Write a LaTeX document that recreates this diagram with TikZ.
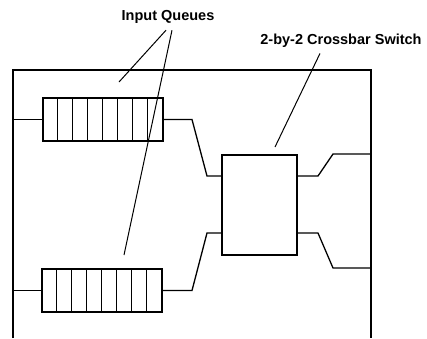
\documentclass[tikz,border=0pt]{standalone}
\usepackage{fontspec}
\setmainfont{Liberation Sans}
\usetikzlibrary{positioning}
\begin{document}
\begin{tikzpicture}[x=1pt,y=-1pt,line width=1.3pt,
	queuebox/.style={draw,rectangle,minimum width=120pt,minimum height=43pt,inner sep=0pt},
	switchbox/.style={draw,rectangle,minimum width=75pt,minimum height=100pt,inner sep=0pt},
	lbl/.style={font=\bfseries\fontsize{14.5}{16}\selectfont,inner sep=0pt},
	pointer/.style={line width=1pt}]
				\useasboundingbox (0,0) rectangle (427,338);
				
				%Frame
				\draw (13,338) -- (13,70) -- (371,70) -- (371,338);
				
				%Queues
				\node[queuebox] (q1) at (103,119.5) {};
				\node[queuebox] (q2) at (102,290.5) {};
				\foreach \q in {q1,q2}
					\foreach \i in {1,...,7}
						\draw[line width=1pt] ([xshift=\i*15pt]\q.north west) -- ([xshift=\i*15pt]\q.south west);
				
				%Switch
				\node[switchbox] (sw) at (259.5,205) {};
				
				%Inputs
				\coordinate (in1) at (13,119.5);
				\coordinate (in2) at (13,290.5);
				\draw (in1) -- (q1.west);
				\draw (in2) -- (q2.west);
				\draw (q1.east) -- (192,119.5) -- (207,176) -- ([yshift=29pt]sw.west);
				\draw (q2.east) -- (192,290.5) -- (207,233) -- ([yshift=-28pt]sw.west);
				
				%Outputs
				\coordinate (out1) at (371,154);
				\coordinate (out2) at (371,268);
				\draw ([yshift=29pt]sw.east) -- (318,176) -- (333,154) -- (out1);
				\draw ([yshift=-28pt]sw.east) -- (318,233) -- (333,268) -- (out2);
				
				%Labels
				\node[lbl] (iq) at (168,17) {Input Queues};
				\node[lbl] (cs) at (341,41) {2-by-2 Crossbar Switch};
				\coordinate (p1) at (119,82);
				\coordinate (p2) at (124,255);
				\coordinate (p3) at (275,147);
				\draw[pointer] ([xshift=-2pt,yshift=-6pt]iq.south) -- (p1);
				\draw[pointer] ([xshift=4pt,yshift=-6pt]iq.south) -- (p2);
				\draw[pointer] ([xshift=-21pt,yshift=-5pt]cs.south) -- (p3);
			\end{tikzpicture}
\end{document}
